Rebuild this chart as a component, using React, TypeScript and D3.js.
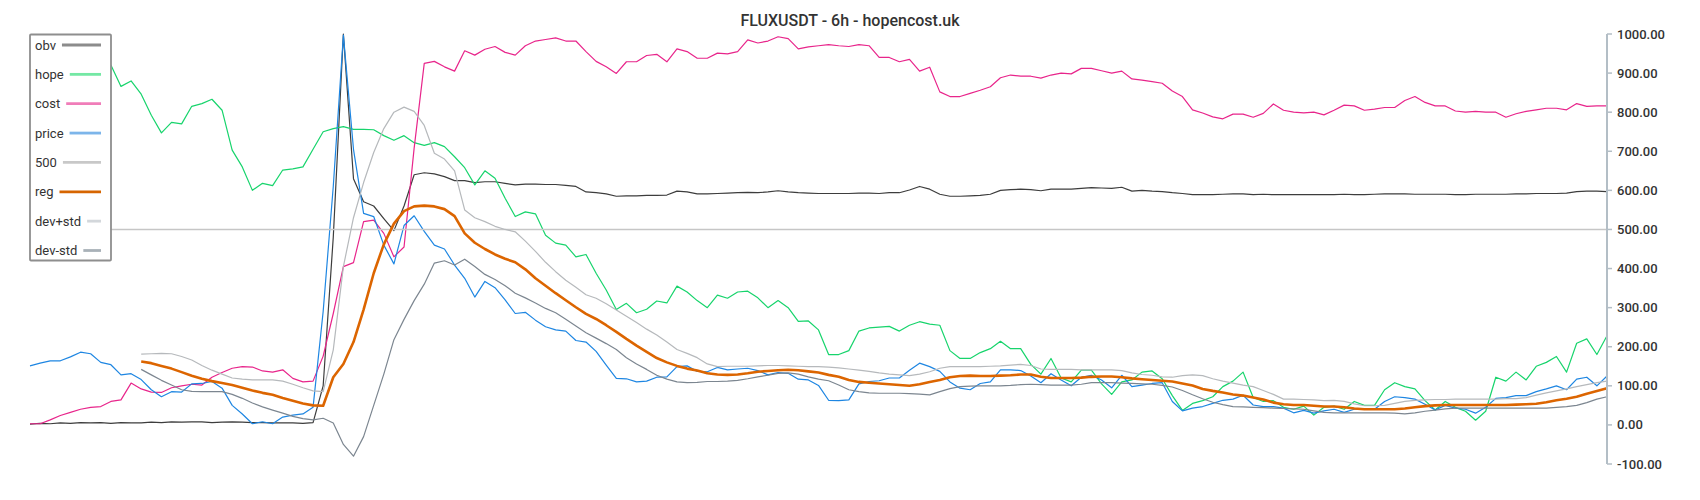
import { useEffect, useRef } from 'react'
import * as d3 from 'd3'

const W = 1700
const H = 500

const title = 'FLUXUSDT - 6h - hopencost.uk'
const yTicks = [-100, 0, 100, 200, 300, 400, 500, 600, 700, 800, 900, 1000]

// one sample per 6h bar (resampled), index based x
const obv = [
  2, 4, 3, 5, 4, 6, 5, 6, 4, 6,
  5, 5, 7, 6, 8, 7, 8, 8, 6, 7,
  8, 7, 6, 6, 5, 5, 5, 4, 6, 100,
  480, 1000, 630, 571, 560, 528, 497, 560, 640, 645,
  642, 635, 625, 625, 620, 622, 622, 618, 614, 616,
  616, 615, 615, 613, 610, 596, 594, 591, 585, 586,
  586, 587, 587, 588, 598, 596, 591, 591, 592, 593,
  594, 595, 594, 596, 599, 596, 594, 593, 592, 592,
  592, 592, 593, 593, 592, 594, 594, 601, 610, 603,
  590, 585, 585, 586, 587, 590, 600, 602, 603, 602,
  599, 603, 603, 603, 605, 607, 606, 605, 608, 598,
  600, 598, 597, 594, 592, 589, 589, 589, 590, 591,
  591, 589, 590, 589, 589, 589, 589, 589, 589, 589,
  590, 589, 589, 590, 591, 591, 591, 590, 590, 590,
  590, 589, 589, 590, 590, 590, 590, 591, 591, 592,
  592, 592, 593, 597, 598, 598, 597,
]

const hope = [
  null, null, null, null, null, null, null, null, 921, 866,
  880, 846, 792, 747, 774, 770, 815, 822, 833, 805,
  703, 660, 600, 618, 612, 652, 655, 660, 705, 750,
  758, 763, 756, 756, 755, 740, 728, 740, 722, 715,
  722, 712, 686, 658, 614, 650, 631, 580, 533, 545,
  540, 485, 465, 460, 430, 436, 388, 345, 295, 311,
  287, 296, 317, 312, 355, 340, 318, 300, 332, 324,
  340, 342, 325, 300, 318, 300, 265, 266, 243, 180,
  180, 190, 240, 248, 250, 252, 240, 255, 264, 258,
  255, 190, 170, 170, 185, 195, 214, 195, 195, 155,
  130, 170, 120, 110, 140, 140, 105, 78, 110, 115,
  135, 138, 118, 75, 37, 55, 62, 72, 98, 112,
  135, 70, 60, 62, 45, 40, 48, 25, 45, 48,
  40, 60, 50, 50, 90, 108, 98, 92, 62, 38,
  60, 45, 35, 12, 35, 122, 112, 135, 115, 150,
  160, 175, 135, 209, 220, 180, 228,
]

const cost = [
  3, 3, 13, 24, 32, 40, 45, 47, 60, 64,
  107, 92, 84, 83, 95, 100, 104, 102, 122, 134,
  145, 149, 148, 138, 135, 141, 119, 110, 112, 176,
  285, 405, 415, 520, 524, 490, 430, 455, 708, 925,
  930, 916, 905, 957, 946, 961, 968, 953, 946, 970,
  982, 986, 990, 982, 982, 955, 930, 916, 899, 929,
  929, 945, 948, 929, 962, 955, 938, 938, 951, 949,
  955, 985, 977, 982, 993, 988, 962, 967, 970, 973,
  970, 968, 973, 970, 940, 940, 929, 935, 905, 915,
  852, 840, 840, 848, 856, 865, 888, 895, 892, 892,
  887, 895, 900, 898, 912, 912, 906, 900, 905, 885,
  882, 878, 874, 854, 840, 806, 798, 788, 783, 795,
  795, 787, 797, 821, 805, 800, 798, 800, 793, 805,
  818, 816, 805, 808, 812, 812, 830, 840, 825, 816,
  816, 803, 800, 802, 800, 800, 787, 796, 802, 806,
  810, 810, 806, 822, 815, 816, 816,
]

const price = [
  151, 158, 164, 164, 174, 186, 182, 160, 154, 128,
  131, 116, 90, 72, 85, 84, 105, 106, 111, 94,
  50, 28, 3, 8, 3, 20, 25, 28, 45, 290,
  610, 997, 705, 541, 533, 460, 412, 510, 535, 495,
  460, 450, 409, 375, 327, 367, 351, 320, 285, 288,
  268, 251, 243, 240, 216, 212, 188, 153, 119, 118,
  110, 112, 122, 123, 149, 151, 137, 136, 147, 141,
  143, 145, 139, 128, 134, 132, 117, 115, 101, 63,
  62, 64, 105, 111, 113, 120, 120, 140, 158, 149,
  137, 110, 94, 90, 106, 110, 141, 141, 139, 125,
  108, 131, 115, 100, 122, 127, 115, 95, 127, 98,
  102, 106, 108, 60, 36, 43, 47, 55, 63, 66,
  76, 51, 47, 47, 43, 31, 37, 30, 36, 40,
  32, 40, 40, 40, 60, 72, 70, 66, 53, 38,
  50, 43, 40, 30, 45, 68, 70, 75, 75, 85,
  92, 100, 90, 117, 122, 100, 125,
]

const level500 = obv.map(() => 500)

const reg = [
  null, null, null, null, null, null, null, null, null, null,
  null, 162, 158, 151, 144, 135, 126, 118, 112, 107,
  102, 95, 88, 82, 77, 69, 62, 55, 50, 49,
  122, 156, 212, 295, 388, 462, 515, 547, 559, 561,
  559, 552, 534, 490, 466, 450, 436, 425, 416, 398,
  375, 356, 337, 319, 301, 284, 271, 255, 238, 220,
  203, 187, 171, 160, 151, 144, 139, 132, 129, 128,
  129, 132, 136, 138, 140, 141, 140, 137, 134, 128,
  123, 115, 110, 108, 106, 104, 102, 100, 104, 110,
  115, 122, 125, 126, 125, 125, 126, 127, 129, 129,
  123, 120, 120, 120, 121, 123, 124, 124, 122, 119,
  117, 115, 113, 111, 106, 101, 92, 87, 83, 78,
  75, 70, 65, 57, 53, 51, 51, 49, 47, 47,
  45, 42, 40, 40, 40, 40, 42, 45, 48, 50,
  51, 51, 51, 51, 51, 51, 51, 52, 53, 54,
  58, 63, 67, 72, 80, 87, 94,
]

const devPlus = [
  null, null, null, null, null, null, null, null, null, null,
  null, 181, 182, 183, 182, 175, 166, 152, 140, 130,
  120, 117, 115, 115, 115, 112, 104, 95, 87, 85,
  192, 405, 530, 620, 697, 758, 800, 813, 802, 766,
  695, 680, 650, 550, 530, 520, 508, 500, 494, 470,
  444, 416, 392, 370, 352, 333, 324, 310, 294, 278,
  262, 245, 230, 212, 193, 183, 172, 156, 149, 150,
  150, 150, 151, 152, 152, 151, 150, 149, 149, 148,
  146, 143, 140, 137, 133, 130, 128, 126, 130, 136,
  145, 149, 149, 149, 149, 150, 151, 153, 155, 152,
  143, 142, 142, 142, 141, 141, 141, 141, 139, 133,
  129, 127, 123, 122, 126, 128, 126, 118, 112, 107,
  102, 98, 88, 78, 66, 66, 65, 64, 62, 63,
  60, 54, 49, 49, 50, 55, 60, 63, 64, 65,
  65, 66, 66, 66, 66, 66, 67, 67, 70, 76,
  82, 87, 92, 98, 103, 108, 112,
]

const devMinus = [
  null, null, null, null, null, null, null, null, null, null,
  null, 142, 128, 114, 102, 90, 86, 85, 85, 85,
  78, 68, 56, 46, 38, 30, 22, 16, 13, 17,
  5, -50, -80, -30, 50, 130, 218, 270, 318, 360,
  414, 420, 409, 424, 405, 385, 372, 356, 337, 325,
  312, 298, 287, 270, 253, 236, 222, 208, 193, 172,
  156, 142, 127, 117, 110, 108, 109, 111, 111, 112,
  114, 118, 123, 127, 132, 133, 130, 123, 117, 113,
  102, 90, 85, 82, 81, 81, 81, 80, 79, 77,
  85, 93, 98, 99, 100, 100, 100, 101, 103, 104,
  103, 102, 102, 102, 104, 108, 108, 108, 107, 106,
  105, 104, 101, 97, 88, 77, 67, 58, 52, 47,
  46, 45, 44, 43, 42, 41, 40, 36, 32, 31,
  31, 31, 31, 31, 31, 30, 28, 31, 35, 38,
  41, 43, 43, 43, 43, 43, 43, 43, 43, 43,
  43, 45, 47, 50, 57, 66, 72,
]

type Series = {
  key: string
  values: (number | null)[]
  color: string
  legendColor: string
  width: number
}

const series: Series[] = [
  { key: 'obv', values: obv, color: '#3d3d3d', legendColor: '#8c8c8c', width: 1.2 },
  { key: 'hope', values: hope, color: '#17d46c', legendColor: '#74e8a4', width: 1.2 },
  { key: 'cost', values: cost, color: '#e8258b', legendColor: '#f07db9', width: 1.2 },
  { key: 'price', values: price, color: '#1e86e2', legendColor: '#7cb5ea', width: 1.2 },
  { key: '500', values: level500, color: '#c6c6c6', legendColor: '#c8c8c8', width: 1.6 },
  { key: 'reg', values: reg, color: '#dc6500', legendColor: '#d66500', width: 2.6 },
  { key: 'dev+std', values: devPlus, color: '#b6b9bc', legendColor: '#d3d7db', width: 1.2 },
  { key: 'dev-std', values: devMinus, color: '#7c8690', legendColor: '#a9b1b8', width: 1.2 },
]

export default function App() {
  const ref = useRef<SVGSVGElement>(null)

  useEffect(() => {
    const svg = d3.select(ref.current)
    svg.selectAll('*').remove()

    const plot = { left: 30, right: 1607, top: 34, bottom: 464 }

    const x = d3
      .scaleLinear()
      .domain([0, obv.length - 1])
      .range([plot.left, plot.right])
    const y = d3.scaleLinear().domain([-100, 1000]).range([plot.bottom, plot.top])

    const line = d3
      .line<number | null>()
      .defined((d) => d != null)
      .x((_, i) => x(i))
      .y((d) => y(d as number))

    // title
    svg
      .append('text')
      .attr('x', W / 2)
      .attr('y', 26)
      .attr('text-anchor', 'middle')
      .attr('font-size', 16)
      .attr('font-weight', 500)
      .attr('fill', '#333')
      .text(title)

    // lines
    const g = svg.append('g')
    series.forEach((s) => {
      g.append('path')
        .attr('d', line(s.values) ?? '')
        .attr('fill', 'none')
        .attr('stroke', s.color)
        .attr('stroke-width', s.width)
        .attr('stroke-linejoin', 'round')
    })

    // right axis
    const axis = svg.append('g').attr('transform', `translate(${plot.right},0)`)
    axis
      .append('line')
      .attr('x1', 0)
      .attr('x2', 0)
      .attr('y1', y(1000))
      .attr('y2', y(-100))
      .attr('stroke', '#b3bec6')
      .attr('stroke-width', 2)
    const tick = axis
      .selectAll('g.tick')
      .data(yTicks)
      .join('g')
      .attr('class', 'tick')
      .attr('transform', (d) => `translate(0,${y(d)})`)
    tick.append('line').attr('x1', 0).attr('x2', 5).attr('stroke', '#b3bec6').attr('stroke-width', 1.5)
    tick
      .append('text')
      .attr('x', 10)
      .attr('dy', '0.35em')
      .attr('font-size', 13)
      .attr('font-weight', 500)
      .attr('fill', '#333')
      .text((d) => d.toFixed(2))

    // legend box
    const legend = svg.append('g')
    legend
      .append('rect')
      .attr('x', 30)
      .attr('y', 34.5)
      .attr('width', 81)
      .attr('height', 226)
      .attr('rx', 1)
      .attr('fill', '#fff')
      .attr('stroke', '#8e8e8e')
      .attr('stroke-width', 1.8)

    const ly = d3
      .scaleLinear()
      .domain([0, series.length - 1])
      .range([45, 250.5])
    series.forEach((s, i) => {
      const row = legend.append('g').attr('transform', `translate(0,${ly(i)})`)
      const t = row
        .append('text')
        .attr('x', 35)
        .attr('dy', '0.35em')
        .attr('font-size', 13)
        .attr('fill', '#333')
        .text(s.key)
      const tw = (t.node() as SVGTextElement).getComputedTextLength()
      row
        .append('line')
        .attr('x1', 35 + tw + 6)
        .attr('x2', 101)
        .attr('stroke', s.legendColor)
        .attr('stroke-width', 2.8)
    })
  }, [])

  return (
    <svg
      ref={ref}
      width={W}
      height={H}
      style={{ position: 'absolute', left: 0, top: 0, fontFamily: 'Roboto, sans-serif', background: '#fff' }}
    />
  )
}
